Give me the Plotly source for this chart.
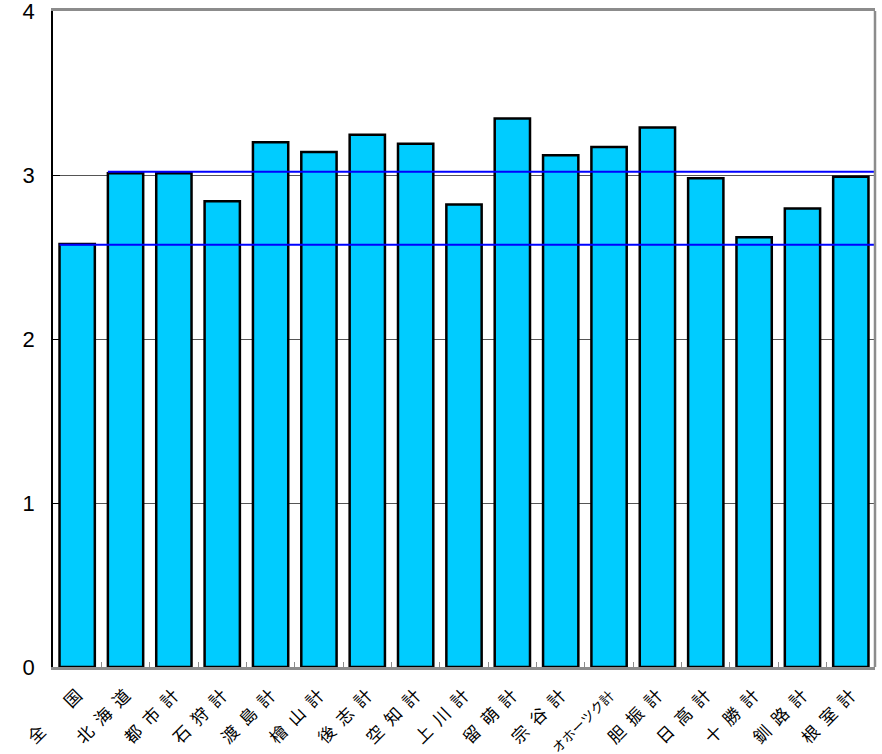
import plotly.graph_objects as go

sp = "\u2002"
categories = ["全\u3000\u3000国", sp.join("北海道"), sp.join("都市計"), sp.join("石狩計"),
              sp.join("渡島計"), sp.join("檜山計"), sp.join("後志計"), sp.join("空知計"),
              sp.join("上川計"), sp.join("留萌計"), sp.join("宗谷計"),
              "<span style='font-size:13.5px'>オホーツク計</span>",
              sp.join("胆振計"), sp.join("日高計"), sp.join("十勝計"), sp.join("釧路計"),
              sp.join("根室計")]
values = [2.58, 3.01, 3.01, 2.84, 3.20, 3.14, 3.245, 3.19, 2.82, 3.345, 3.12, 3.17,
          3.29, 2.98, 2.62, 2.795, 2.99]
ref_national = 2.575
ref_hokkaido = 3.02

bargap = 0.27
half = (1 - bargap) / 2
n = len(categories)

fig = go.Figure()
fig.add_trace(go.Bar(
    x=categories, y=values,
    marker=dict(color="#00CCFF", line=dict(color="black", width=2.5)),
))

shapes = []
for idx, val in [(0, ref_national), (1, ref_hokkaido)]:
    shapes.append(dict(type="line", xref="x", yref="y", x0=idx - half, x1=n - 0.5,
                       y0=val, y1=val, line=dict(color="#0000FF", width=2)))
# right border
shapes.append(dict(type="line", xref="paper", yref="paper", x0=1, x1=1, y0=0, y1=1,
                   line=dict(color="#8c8c8c", width=2.5)))

fig.update_layout(
    width=882, height=754,
    margin=dict(l=53, r=7, t=11, b=87),
    plot_bgcolor="white", paper_bgcolor="white",
    bargap=bargap, showlegend=False,
    shapes=shapes,
    font=dict(family="Liberation Sans, Arial", color="black"),
)
fig.update_xaxes(
    type="category", range=[-0.5, n - 0.5], tickangle=-45, automargin=False,
    tickfont=dict(family="Noto Sans CJK JP", size=17, color="black"),
    ticklabelstandoff=9, ticklabeloverflow="allow",
    showline=True, linecolor="#8c8c8c", linewidth=2.5, mirror=True,
    ticks="inside", tickson="boundaries", ticklen=5, tickcolor="#8c8c8c", tickwidth=1,
    showgrid=False,
)
fig.update_yaxes(
    range=[0, 4], dtick=1, tickfont=dict(size=22, color="black"), automargin=False,
    ticklabelstandoff=12, ticklabeloverflow="allow",
    showline=True, linecolor="black", linewidth=1.5,
    showgrid=True, gridcolor="#555555", gridwidth=1,
    ticks="inside", ticklen=7, tickcolor="black", zeroline=False,
)
fig.write_html("out.html", config={"displayModeBar": False},
               post_script="document.body.style.margin='0';document.body.style.overflow='hidden';")
